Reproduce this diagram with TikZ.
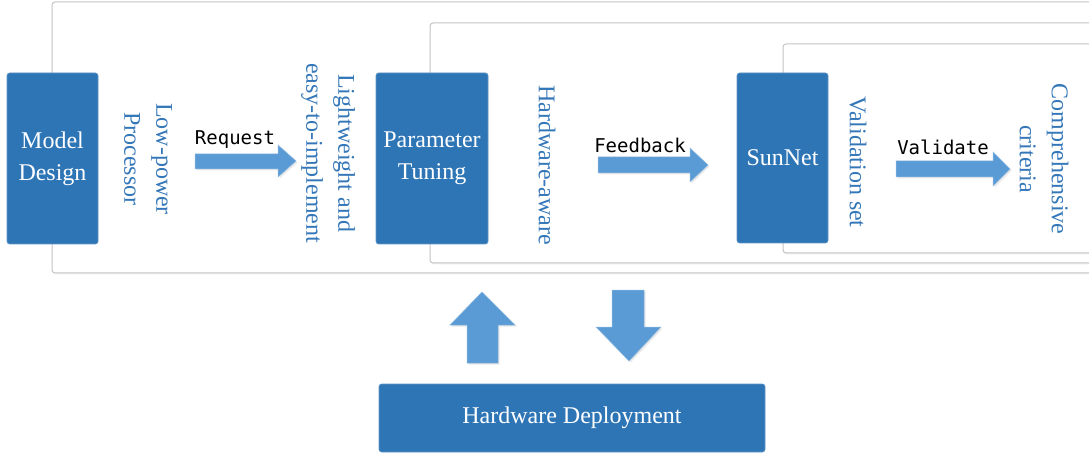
\documentclass[tikz,border=0pt]{standalone}
\usepackage{fontspec}
\setmainfont{Liberation Serif}
\newfontfamily\labelfont{DejaVu Sans Mono}
\usetikzlibrary{shadows}
\definecolor{boxblue}{HTML}{2E75B6}
\definecolor{arrowblue}{HTML}{5B9BD5}
\definecolor{framegray}{HTML}{C4C4C4}
\definecolor{textblue}{HTML}{3477B8}
\begin{document}
\begin{tikzpicture}[x=1pt,y=-1pt,
  frame/.style={draw=framegray, line width=1pt, fill=white, rounded corners=3pt,
    drop shadow={opacity=0.12, shadow xshift=1pt, shadow yshift=-1.5pt}},
  bluebox/.style={draw=boxblue!75!white, line width=0.6pt, fill=boxblue, rounded corners=2.5pt,
    text=white, font=\fontsize{24}{32}\selectfont, align=center, inner sep=0pt},
  vtext/.style={rotate=-90, text=textblue, font=\fontsize{24}{32}\selectfont, align=center, inner sep=0pt},
  blockarrow/.style={fill=arrowblue, draw=arrowblue!70!white, line width=0.5pt,
    drop shadow={opacity=0.18, shadow xshift=1.5pt, shadow yshift=-1.5pt}},
  lab/.style={font=\labelfont\fontsize{19}{22}\selectfont, inner sep=0pt}
]
\clip (0,0) rectangle (1089,454);
\fill[white] (0,0) rectangle (1089,454);

% nested frames
\draw[frame] (52,2) rectangle (1110,273);
\draw[frame] (430,23) rectangle (1110,263);
\draw[frame] (783,44) rectangle (1110,253);

% blue boxes
\node[bluebox, minimum width=91, minimum height=171] (md) at (52.5,158.5) {Model\\Design};
\node[bluebox, minimum width=112, minimum height=171] (pt) at (432,158.5) {Parameter\\Tuning};
\node[bluebox, minimum width=91, minimum height=170] (sn) at (782.5,158) {SunNet};
\node[bluebox, minimum width=386, minimum height=68] (hd) at (572,418) {Hardware Deployment};

% vertical texts
\node[vtext] (lp) at (148,159) {Low-power\\Processor};
\node[vtext] (lw) at (328,153) {Lightweight and\\easy-to-implement};
\node[vtext] (hw) at (547,165) {Hardware-aware};
\node[vtext] (vs) at (858,162) {Validation set};
\node[vtext] (cc) at (1044,159) {Comprehensive\\criteria};

% horizontal block arrows
\draw[blockarrow] (195,154) -- (278,154) -- (278,145) -- (296,161) -- (278,177) -- (278,169) -- (195,169) -- cycle;
\draw[blockarrow] (598,157) -- (690,157) -- (690,148) -- (708,165) -- (690,182) -- (690,173) -- (598,173) -- cycle;
\draw[blockarrow] (896,161) -- (993,161) -- (993,152) -- (1010,169) -- (993,186) -- (993,177) -- (896,177) -- cycle;

% labels
\node[lab] (rq) at (235,140) {Request};
\node[lab] (fb) at (640,145) {Feedback};
\node[lab] (vd) at (943,147) {Validate};

% vertical block arrows
\draw[blockarrow] (482,292) -- (515,325) -- (498,325) -- (498,363) -- (467,363) -- (467,325) -- (450,325) -- cycle;
\draw[blockarrow] (612,290) -- (644,290) -- (644,327) -- (661,327) -- (629,361) -- (596,327) -- (612,327) -- cycle;
\end{tikzpicture}
\end{document}
